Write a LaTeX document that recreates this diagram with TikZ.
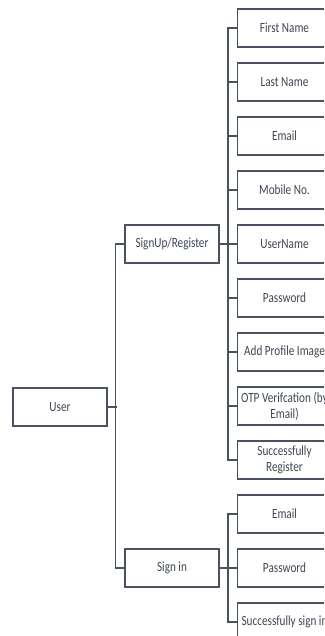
\documentclass[tikz,border=0pt]{standalone}
\usepackage{fontspec}
\setmainfont{Carlito}
\newfontfamily\condfont[FakeStretch=0.8]{Carlito}
\definecolor{linec}{HTML}{4A5260}
\definecolor{textc}{HTML}{3E4652}
\begin{document}
\begin{tikzpicture}[x=1pt,y=-1pt,
  box/.style={draw=linec, line width=1.5pt, minimum width=94pt, minimum height=38pt,
    inner sep=0pt, align=center, text=textc, font=\condfont\fontsize{14}{16}\selectfont},
  conn/.style={draw=linec, line width=1.5pt}]
\useasboundingbox (0,0) rectangle (324,636);
\clip (0,0) rectangle (324,636);
\fill[white] (0,0) rectangle (324,636);
\node[box] (user) at (60,407) {User};
\node[box] (signup) at (172,244) {SignUp/Register};
\node[box] (signin) at (172,568) {Sign in};
\node[box] (fn) at (284.5,28) {First Name};
\node[box] (ln) at (284.5,82) {Last Name};
\node[box] (em) at (284.5,136) {Email};
\node[box] (mob) at (284.5,190) {Mobile No.};
\node[box] (un) at (284.5,244) {UserName};
\node[box] (pw) at (284.5,298) {Password};
\node[box] (api) at (284.5,352) {Add Profile Image};
\node[box] (otp) at (284.5,406) {OTP Verifcation (by\\Email)};
\node[box] (sr) at (284.5,460) {Successfully\\Register};
\node[box] (sem) at (284.5,514) {Email};
\node[box] (spw) at (284.5,568) {Password};
\node[box] (ssi) at (284.5,622) {Successfully sign in};
% user level
\draw[conn] (user.east) -- ++(9,0);
\draw[conn] (signup.west) -- ++(-9,0) |- (signin.west);
% signup level
\draw[conn] (signup.east) -- ++(9,0);
\draw[conn] (fn.west) -- ++(-9,0) |- (sr.west);
\foreach \n in {ln,em,mob,un,pw,api,otp} {\draw[conn] (\n.west) -- ++(-9,0);}
% signin level
\draw[conn] (signin.east) -- ++(9,0);
\draw[conn] (sem.west) -- ++(-9,0) |- (ssi.west);
\draw[conn] (spw.west) -- ++(-9,0);
\end{tikzpicture}
\end{document}
